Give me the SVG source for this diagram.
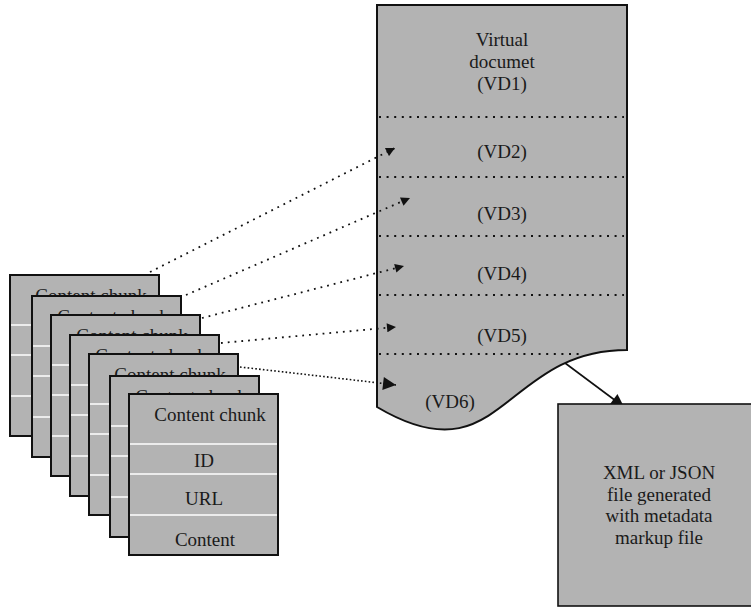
<svg xmlns="http://www.w3.org/2000/svg" width="751" height="609" viewBox="0 0 751 609">
<style>
text { font-family: "Liberation Serif", "Times New Roman", serif; font-size: 19px; fill: #1a1a1a; text-anchor: middle; }
.card { fill: #b3b3b3; stroke: #111; stroke-width: 2; }
.sep { stroke: #ffffff; stroke-width: 1.6; }
.doc { fill: #b3b3b3; stroke: #111; stroke-width: 2; }
.div { stroke: #111; stroke-width: 2; stroke-dasharray: 2 5.6; fill: none; }
.dot { stroke: #111; stroke-width: 1.8; stroke-dasharray: 1.8 5; fill: none; }
.dot2 { stroke: #111; stroke-width: 1.6; stroke-dasharray: 1.6 2.2; fill: none; }
.solid { stroke: #111; stroke-width: 1.6; fill: none; }
.box { fill: #b3b3b3; stroke: #111; stroke-width: 1.6; }
</style>
<defs>
<marker id="ah" viewBox="0 0 10 10" refX="10" refY="5" markerWidth="11" markerHeight="9" markerUnits="userSpaceOnUse" orient="auto">
<path d="M0,0 L10,5 L0,10 Z" fill="#111"/>
</marker>
<marker id="ah2" viewBox="0 0 10 10" refX="10" refY="5" markerWidth="15" markerHeight="13" markerUnits="userSpaceOnUse" orient="auto">
<path d="M0,0 L10,5 L0,10 Z" fill="#111"/>
</marker>
<g id="cardTpl">
<rect class="card" x="0" y="0" width="149" height="161"/>
<line class="sep" x1="1" y1="50" x2="148" y2="50"/>
<line class="sep" x1="1" y1="80" x2="148" y2="80"/>
<line class="sep" x1="1" y1="121" x2="148" y2="121"/>
<text x="81" y="27">Content chunk</text>
</g>
</defs>

<g id="virtual-document">
<path class="doc" d="M377,5 H627 V350 C502,350 502,481 377,407 Z"/>
<line class="div" x1="379" y1="117" x2="624" y2="117"/>
<line class="div" x1="379" y1="177" x2="624" y2="177"/>
<line class="div" x1="379" y1="236" x2="624" y2="236"/>
<line class="div" x1="379" y1="295" x2="624" y2="295"/>
<line class="div" x1="379" y1="354" x2="584" y2="354"/>
<text x="502" y="46">Virtual</text>
<text x="502" y="68">documet</text>
<text x="502" y="90">(VD1)</text>
<text x="502" y="158">(VD2)</text>
<text x="502" y="220">(VD3)</text>
<text x="502" y="280">(VD4)</text>
<text x="502" y="342">(VD5)</text>
<text x="450" y="408">(VD6)</text>
</g>

<g id="chunk-1"><use href="#cardTpl" x="10" y="275"/></g>
<g id="chunk-2"><use href="#cardTpl" x="32" y="296"/></g>
<g id="chunk-3"><use href="#cardTpl" x="51" y="315"/></g>
<g id="chunk-4"><use href="#cardTpl" x="70" y="335"/></g>
<g id="chunk-5"><use href="#cardTpl" x="89" y="354"/></g>
<g id="chunk-6"><use href="#cardTpl" x="110" y="376"/></g>
<g id="chunk-7">
<use href="#cardTpl" x="129" y="394"/>
<text x="204" y="467">ID</text>
<text x="204" y="505">URL</text>
<text x="205" y="546">Content</text>
</g>

<g id="connectors">
<line class="dot" x1="150" y1="272" x2="395" y2="148" marker-end="url(#ah)"/>
<line class="dot" x1="186" y1="295" x2="410" y2="198" marker-end="url(#ah)"/>
<line class="dot" x1="202" y1="318" x2="404" y2="266" marker-end="url(#ah)"/>
<line class="dot" x1="221" y1="343" x2="396" y2="327" marker-end="url(#ah)"/>
<path class="dot2" d="M240,367 Q320,376 396,385" marker-end="url(#ah2)" style="stroke-dasharray:1.6 2.2" />
<line class="solid" x1="565" y1="363" x2="624" y2="407" marker-end="url(#ah2)"/>
</g>

<g id="output-file">
<rect class="box" x="558" y="404" width="200" height="202"/>
<text x="659" y="479">XML or JSON</text>
<text x="659" y="501">file generated</text>
<text x="659" y="522">with metadata</text>
<text x="659" y="544">markup file</text>
</g>
</svg>
